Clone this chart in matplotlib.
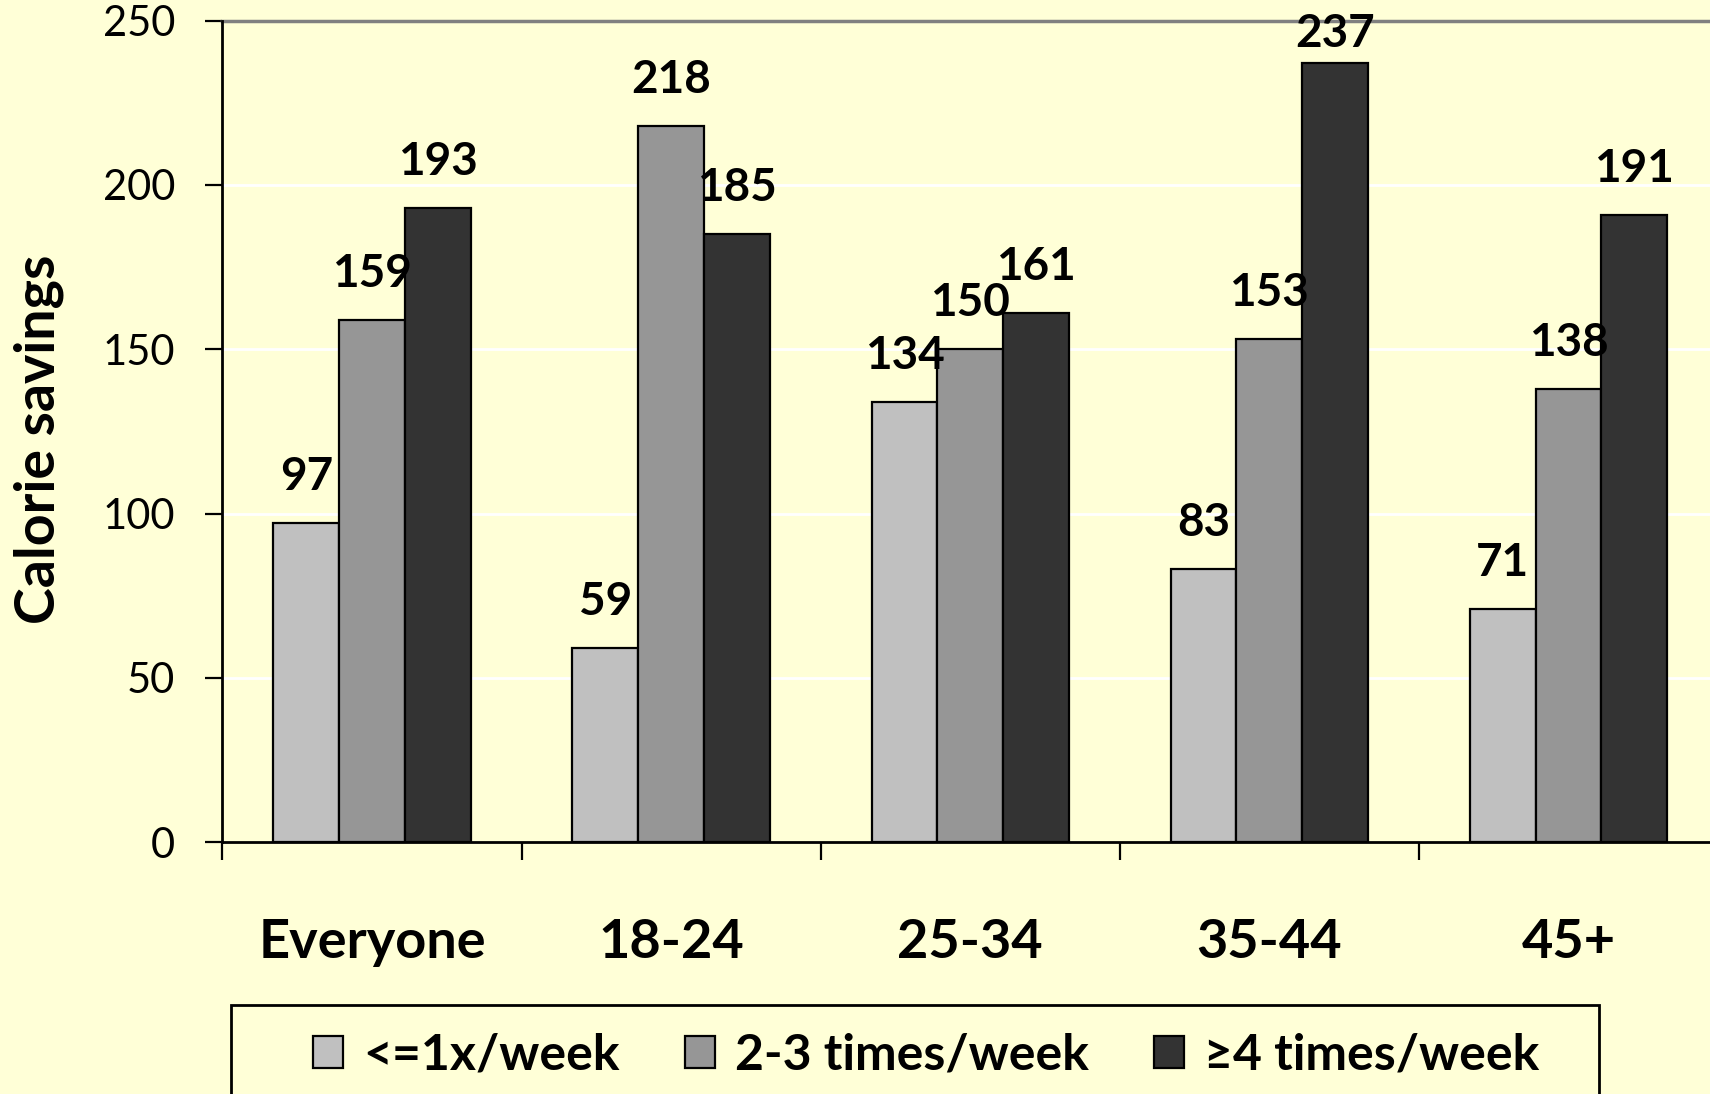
import matplotlib
matplotlib.use("Agg")
import matplotlib.pyplot as plt
from matplotlib.patches import Rectangle, Patch
from matplotlib.ticker import FixedLocator, NullFormatter
import numpy as np

categories = ["Everyone", "18-24", "25-34", "35-44", "45+"]
series_names = ["<=1x/week", "2-3 times/week", "\u22654 times/week"]
low_freq = [97, 59, 134, 83, 71]
mid_freq = [159, 218, 150, 153, 138]
high_freq = [193, 185, 161, 237, 191]
y_ticks = [0, 50, 100, 150, 200, 250]
y_label = "Calorie savings"

series = [low_freq, mid_freq, high_freq]
colors = ["#C0C0C0", "#969696", "#333333"]
bg = "#FFFFD7"

plt.rcParams["font.family"] = ["Lato", "DejaVu Sans"]

fig = plt.figure(figsize=(17.10, 10.94), dpi=100, facecolor=bg)
ax = fig.add_axes([0.1301, 0.2303, 0.8746, 0.7508])
ax.set_facecolor(bg)

x = np.arange(len(categories))
width = 0.22
for i, (vals, col) in enumerate(zip(series, colors)):
    pos = x + (i - 1) * width
    ax.bar(pos, vals, width=width, color=col, edgecolor="black",
           linewidth=1.6, zorder=3)
    for px, v in zip(pos, vals):
        ax.text(px, min(v + 14, 246), str(v), ha="center", va="center",
                fontsize=33, fontweight="bold", zorder=4)

ax.set_xlim(-0.5, len(categories) - 0.5)
ax.set_ylim(0, 250)
ax.set_yticks(y_ticks)
ax.set_yticklabels([str(t) for t in y_ticks])
ax.tick_params(axis="y", length=12, width=1.6, pad=22, labelsize=30)

# grid lines in white, top boundary in grey
for t in y_ticks[1:-1]:
    ax.axhline(t, color="white", linewidth=2, zorder=1)
ax.axhline(250, color="#808080", linewidth=2.5, zorder=2, clip_on=False)

# category boundary ticks, labels at centres
ax.xaxis.set_major_locator(FixedLocator(np.arange(-0.5, len(categories), 1.0)))
ax.xaxis.set_major_formatter(NullFormatter())
ax.xaxis.set_minor_locator(FixedLocator(x))
ax.set_xticklabels(categories, minor=True)
ax.tick_params(axis="x", which="major", length=13, width=1.6, direction="out")
ax.tick_params(axis="x", which="minor", length=0, pad=55, labelsize=39)
for lab in ax.get_xticklabels(minor=True):
    lab.set_fontweight("bold")

for side in ["top", "right"]:
    ax.spines[side].set_visible(False)
for side in ["left", "bottom"]:
    ax.spines[side].set_linewidth(2)
    ax.spines[side].set_zorder(5)

ax.set_ylabel(y_label, fontsize=40, fontweight="bold")
ax.yaxis.label.set_verticalalignment("center")
ax.yaxis.set_label_coords(-0.123, 0.49)

# legend with its own frame running past the bottom edge
fig.patches.append(Rectangle((231 / 1710, -0.05), (1599 - 231) / 1710,
                             1 - 1005 / 1094 + 0.05, transform=fig.transFigure,
                             facecolor="none", edgecolor="black", linewidth=2))
handles = [Patch(facecolor=c, edgecolor="black", linewidth=1.6) for c in colors]
fig.legend(handles, series_names, loc="center", ncol=3,
           bbox_to_anchor=(926 / 1710, 1 - 1055 / 1094), frameon=False,
           prop={"size": 36, "weight": "bold"}, handlelength=0.6,
           handleheight=0.6, handletextpad=0.4, columnspacing=1.3)

fig.savefig("out.png", dpi=100, facecolor=bg)
